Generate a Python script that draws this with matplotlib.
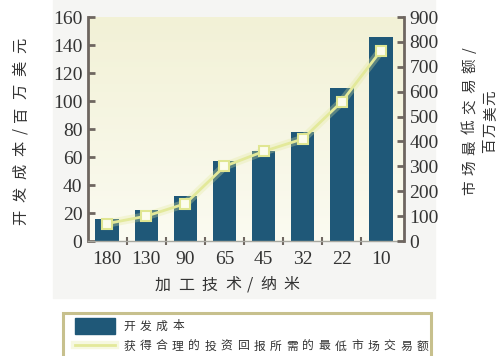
import numpy as np
import matplotlib.pyplot as plt
from matplotlib.patches import Rectangle
from matplotlib.lines import Line2D
from matplotlib.colors import LinearSegmentedColormap

plt.rcParams['font.family'] = ['Noto Sans CJK SC', 'DejaVu Sans']

# 工艺节点 (nm)
nodes = ['180', '130', '90', '65', '45', '32', '22', '10']
# 开发成本 (百万美元)
dev_cost = [16, 22, 32, 57, 64, 78, 109, 146]
# 获得合理投资回报所需的最低市场交易额 (百万美元)
min_market = [70, 100, 150, 300, 360, 410, 560, 765]

left_ticks = list(range(0, 161, 20))
right_ticks = list(range(0, 901, 100))

W, H = 501, 356
BAR = '#1f5878'
LINE = '#e3e99a'
AXIS = '#6e6660'
TXT = '#333333'

fig = plt.figure(figsize=(W / 100, H / 100), dpi=100)


def px(x, y):
    # 像素坐标 -> figure 坐标
    return x / W, 1 - y / H


def spaced(x0, y0, text, pitch, size, vertical=False):
    # 逐字放置，字距固定；斜杠两侧间距缩小
    pos = 0.0
    for i, ch in enumerate(text):
        if i > 0:
            narrow = '/' in (ch, text[i - 1])
            pos += pitch * (0.75 if narrow else 1.0)
        if vertical:
            x, y = px(x0, y0 - pos)
        else:
            x, y = px(x0 + pos, y0)
        fig.text(x, y, ch, fontsize=size, rotation=90 if vertical else 0,
                 ha='center', va='center', color=TXT)


# 浅灰底板
x0, y0 = px(53, 298)
fig.add_artist(Rectangle((x0, y0), (435 - 53) / W, 298 / H,
                         transform=fig.transFigure, color='#f5f5f3', zorder=-5))

ax = fig.add_axes([88 / W, 1 - 241 / H, 316 / W, 224 / H])
ax.set_facecolor('none')
xmin, xmax = -0.49, 7.59
ax.set_xlim(xmin, xmax)
ax.set_ylim(0, 160)

# 背景渐变
bg = LinearSegmentedColormap.from_list('bg', ['#fbfbf1', '#f2f1d6'])
ax.imshow(np.linspace(0, 1, 256).reshape(-1, 1), extent=[xmin, xmax, 0, 160],
          origin='lower', aspect='auto', cmap=bg, zorder=0)

x = np.arange(len(nodes))
ax.bar(x, dev_cost, width=0.6, color=BAR, zorder=2)

ax.set_yticks(left_ticks)
ax.set_xticks(x, nodes)
ax.set_xticks(x[:-1] + 0.5, minor=True)
ax.tick_params(axis='y', direction='in', length=5, width=2, color=AXIS,
               labelsize=14, pad=4, labelcolor=TXT, labelfontfamily='Liberation Serif')
ax.tick_params(axis='x', which='major', length=0, pad=7, labelsize=14,
               labelcolor=TXT, labelfontfamily='Liberation Serif')
ax.tick_params(axis='x', which='minor', direction='inout', length=6, width=1.5, color=AXIS)
for s in ['top', 'right']:
    ax.spines[s].set_visible(False)
ax.spines['left'].set_color(AXIS)
ax.spines['left'].set_linewidth(2)
ax.spines['bottom'].set_color('#a8a8a0')
ax.spines['bottom'].set_linewidth(1)

ax2 = ax.twinx()
ax2.set_ylim(0, 900)
ax2.set_yticks(right_ticks)
ax2.tick_params(axis='y', direction='in', length=5, width=2, color=AXIS,
                labelsize=14, pad=4, labelcolor=TXT, labelfontfamily='Liberation Serif')
for s in ['top', 'left', 'bottom']:
    ax2.spines[s].set_visible(False)
ax2.spines['right'].set_color(AXIS)
ax2.spines['right'].set_linewidth(2)

# 折线：先画一层淡光晕，再画线和方块标记
ax2.plot(x, min_market, color=LINE, lw=6, alpha=0.3, zorder=3)
ax2.plot(x, min_market, color=LINE, lw=2, marker='s', ms=6.5,
         mfc='#fcfcec', mec='#e0e692', mew=1.5, zorder=4)

# 坐标轴标题
spaced(163, 285, '加工技术/纳米', 23.3, 11.5)
spaced(21, 217, '开发成本/百万美元', 22.9, 11, vertical=True)
spaced(470, 188, '市场最低交易额/', 20.4, 10.5, vertical=True)
spaced(490, 146, '百万美元', 16, 10.5, vertical=True)

# 图例框
lx, ly = px(63, 358)
fig.add_artist(Rectangle((lx, ly), (431 - 63) / W, (358 - 313) / H,
                         transform=fig.transFigure, facecolor='white',
                         edgecolor='#c7c08d', lw=2.2, zorder=1))
bx, by = px(75, 334)
fig.add_artist(Rectangle((bx, by), 40 / W, 16 / H, transform=fig.transFigure,
                         color=BAR, zorder=2))
for lw, a in [(6, 0.3), (2, 1)]:
    fig.add_artist(Line2D([75 / W, 115 / W], [1 - 345 / H] * 2,
                          transform=fig.transFigure, color=LINE, lw=lw, alpha=a, zorder=2))
spaced(129, 326, '开发成本', 16.4, 8.5)
spaced(129, 346, '获得合理的投资回报所需的最低市场交易额', 16.3, 8.5)

fig.savefig('out.png', dpi=100)
